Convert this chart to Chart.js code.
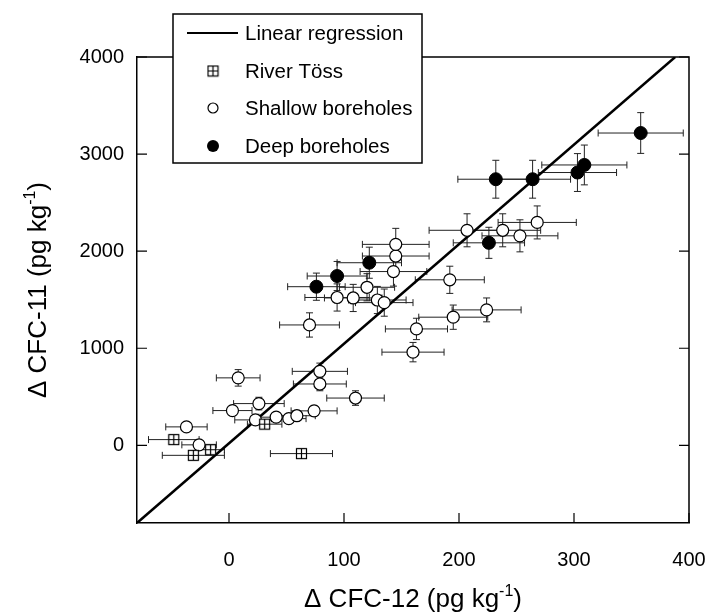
<!DOCTYPE html>
<html lang="en">
<head>
<meta charset="UTF-8">
<title>CFC-11 vs CFC-12</title>
<script src="https://cdn.jsdelivr.net/npm/chart.js"></script>
<style>
  html, body { margin: 0; padding: 0; background: #fff; }
</style>
</head>
<body>
<canvas id="cfcChart" width="710" height="613"></canvas>
<script>
// River Töss
const riverX    = [-48, -31, -16, 31, 63];
const riverY    = [59, -103, -45, 218, -85];
const riverXErr = [22, 27, 12, 15, 27];
const riverYErr = [45, 45, 40, 35, 45];

// Shallow boreholes
const shallowX    = [-37, -26, 3, 8, 23, 26, 41, 52, 59, 74, 70, 79, 79, 110, 94, 108, 120, 129, 135, 143, 145, 145, 160, 163, 192, 195, 224, 207, 238, 253, 268];
const shallowY    = [190, 5, 358, 695, 262, 430, 290, 275, 305, 355, 1240, 762, 632, 487, 1523, 1518, 1628, 1497, 1470, 1790, 1950, 2070, 960, 1199, 1705, 1320, 1395, 2215, 2215, 2158, 2296];
const shallowXErr = [18, 15, 17, 19, 18, 22, 15, 15, 16, 20, 26, 24, 23, 25, 28, 25, 24, 25, 25, 29, 29, 29, 27, 27, 30, 30, 30, 33, 33, 33, 34];
const shallowYErr = [45, 40, 50, 85, 45, 65, 45, 45, 45, 50, 125, 85, 70, 75, 140, 140, 140, 140, 140, 150, 150, 165, 100, 110, 140, 125, 123, 170, 170, 165, 170];

// Deep boreholes
const deepX    = [76, 94, 122, 226, 232, 264, 303, 309, 358];
const deepY    = [1634, 1744, 1881, 2086, 2741, 2741, 2810, 2888, 3217];
const deepXErr = [25, 26, 28, 31, 33, 33, 34, 37, 37];
const deepYErr = [140, 150, 160, 160, 195, 195, 195, 205, 210];

// linear regression end points
const regX = [-80, 388];
const regY = [-800, 4000];

const xTicks = [0, 100, 200, 300, 400];
const yTicks = [0, 1000, 2000, 3000, 4000];

const FONT = '"Liberation Sans", Arial, Helvetica, sans-serif';

function toPoints(xs, ys) {
    return xs.map((x, i) => ({ x: x, y: ys[i] }));
}

// boxed cross marker for the river samples
function makeBoxCross(size) {
    const c = document.createElement('canvas');
    c.width = size; c.height = size;
    const g = c.getContext('2d');
    g.fillStyle = '#fff';
    g.fillRect(1, 1, size - 2, size - 2);
    g.strokeStyle = '#000';
    g.lineWidth = 1.2;
    g.strokeRect(1.5, 1.5, size - 3, size - 3);
    g.beginPath();
    g.moveTo(size / 2, 1.5); g.lineTo(size / 2, size - 1.5);
    g.moveTo(1.5, size / 2); g.lineTo(size - 1.5, size / 2);
    g.stroke();
    return c;
}
const boxCross = makeBoxCross(13);

// axis title with a superscript "-1"
function drawTitle(ctx, x, y, rot, main, sup, tail) {
    ctx.save();
    ctx.translate(x, y);
    ctx.rotate(rot);
    ctx.fillStyle = '#000';
    ctx.textBaseline = 'alphabetic';
    ctx.font = '26px ' + FONT;
    const w1 = ctx.measureText(main).width;
    const w3 = ctx.measureText(tail).width;
    ctx.font = '16px ' + FONT;
    const w2 = ctx.measureText(sup).width;
    let cx = -(w1 + w2 + w3) / 2;
    ctx.font = '26px ' + FONT;
    ctx.fillText(main, cx, 9);
    cx += w1;
    ctx.font = '16px ' + FONT;
    ctx.fillText(sup, cx, -2);
    cx += w2;
    ctx.font = '26px ' + FONT;
    ctx.fillText(tail, cx, 9);
    ctx.restore();
}

const decorations = {
    id: 'decorations',
    beforeDatasetsDraw(chart) {
        const ctx = chart.ctx;
        const a = chart.chartArea;
        const xs = chart.scales.x, ys = chart.scales.y;
        ctx.save();
        ctx.strokeStyle = '#000';
        ctx.lineWidth = 1.5;
        // top and right edges of the frame
        ctx.beginPath();
        ctx.moveTo(a.left, a.top); ctx.lineTo(a.right, a.top); ctx.lineTo(a.right, a.bottom);
        ctx.stroke();
        // inward tick marks
        ctx.lineWidth = 1.2;
        ctx.beginPath();
        yTicks.forEach(v => {
            const py = ys.getPixelForValue(v);
            ctx.moveTo(a.left, py); ctx.lineTo(a.left + 10, py);
            ctx.moveTo(a.right, py); ctx.lineTo(a.right - 10, py);
        });
        xTicks.forEach(v => {
            const px = xs.getPixelForValue(v);
            ctx.moveTo(px, a.bottom); ctx.lineTo(px, a.bottom - 10);
        });
        ctx.stroke();

        // error bars
        ctx.beginPath();
        ctx.rect(a.left, a.top, a.right - a.left, a.bottom - a.top);
        ctx.clip();
        ctx.strokeStyle = '#222';
        ctx.lineWidth = 1;
        ctx.beginPath();
        chart.data.datasets.forEach(ds => {
            if (!ds.errX) return;
            ds.data.forEach((p, i) => {
                const px = xs.getPixelForValue(p.x), py = ys.getPixelForValue(p.y);
                const x0 = xs.getPixelForValue(p.x - ds.errX[i]), x1 = xs.getPixelForValue(p.x + ds.errX[i]);
                const y0 = ys.getPixelForValue(p.y - ds.errY[i]), y1 = ys.getPixelForValue(p.y + ds.errY[i]);
                ctx.moveTo(x0, py); ctx.lineTo(x1, py);
                ctx.moveTo(x0, py - 3.5); ctx.lineTo(x0, py + 3.5);
                ctx.moveTo(x1, py - 3.5); ctx.lineTo(x1, py + 3.5);
                ctx.moveTo(px, y0); ctx.lineTo(px, y1);
                ctx.moveTo(px - 3.5, y0); ctx.lineTo(px + 3.5, y0);
                ctx.moveTo(px - 3.5, y1); ctx.lineTo(px + 3.5, y1);
            });
        });
        ctx.stroke();
        ctx.restore();
    },
    afterDraw(chart) {
        const ctx = chart.ctx;
        const a = chart.chartArea;
        // legend box
        ctx.save();
        ctx.fillStyle = '#fff';
        ctx.fillRect(173, 14, 249, 149);
        ctx.strokeStyle = '#000';
        ctx.lineWidth = 1.5;
        ctx.strokeRect(173, 14, 249, 149);

        const rows = [33, 71, 108, 146];
        ctx.lineWidth = 2;
        ctx.beginPath();
        ctx.moveTo(187, rows[0]); ctx.lineTo(238, rows[0]);
        ctx.stroke();
        ctx.drawImage(boxCross, 213 - 6.5, rows[1] - 6.5);
        ctx.lineWidth = 1.2;
        ctx.beginPath();
        ctx.arc(213, rows[2], 5, 0, Math.PI * 2);
        ctx.fillStyle = '#fff'; ctx.fill(); ctx.stroke();
        ctx.beginPath();
        ctx.arc(213, rows[3], 6, 0, Math.PI * 2);
        ctx.fillStyle = '#000'; ctx.fill();

        ctx.fillStyle = '#000';
        ctx.font = '20.5px ' + FONT;
        ctx.textBaseline = 'middle';
        chart.data.datasets.forEach((ds, i) => {
            ctx.fillText(ds.label, 245, rows[i] + 1);
        });
        ctx.restore();

        // axis titles
        drawTitle(ctx, (a.left + a.right) / 2, 598, 0, '\u0394 CFC-12 (pg kg', '-1', ')');
        drawTitle(ctx, 37, (a.top + a.bottom) / 2, -Math.PI / 2, '\u0394 CFC-11 (pg kg', '-1', ')');
    }
};

const ctx = document.getElementById('cfcChart').getContext('2d');
const chart = new Chart(ctx, {
    type: 'scatter',
    data: {
        datasets: [
            {
                label: 'Linear regression',
                data: toPoints(regX, regY),
                showLine: true,
                borderColor: '#000',
                borderWidth: 2.5,
                pointRadius: 0,
                order: 10
            },
            {
                label: 'River Töss',
                data: toPoints(riverX, riverY),
                errX: riverXErr, errY: riverYErr,
                pointStyle: boxCross,
                order: 1
            },
            {
                label: 'Shallow boreholes',
                data: toPoints(shallowX, shallowY),
                errX: shallowXErr, errY: shallowYErr,
                pointStyle: 'circle',
                pointRadius: 6,
                backgroundColor: '#fff',
                borderColor: '#000',
                borderWidth: 1.2,
                order: 2
            },
            {
                label: 'Deep boreholes',
                data: toPoints(deepX, deepY),
                errX: deepXErr, errY: deepYErr,
                pointStyle: 'circle',
                pointRadius: 6.5,
                backgroundColor: '#000',
                borderColor: '#000',
                borderWidth: 1,
                order: 0
            }
        ]
    },
    options: {
        responsive: false,
        animation: false,
        devicePixelRatio: 1,
        layout: { padding: { top: 57, right: 21, left: 0, bottom: 0 } },
        plugins: { legend: { display: false }, tooltip: { enabled: false } },
        scales: {
            x: {
                type: 'linear',
                min: -80, max: 400,
                afterBuildTicks: s => { s.ticks = xTicks.map(v => ({ value: v })); },
                afterFit: s => { s.height = 90; s.paddingLeft = 0; s.paddingRight = 0; },
                grid: { display: false, drawTicks: false },
                border: { display: true, color: '#000', width: 1.5 },
                ticks: { color: '#000', font: { family: FONT, size: 20 }, padding: 25, callback: v => String(v) }
            },
            y: {
                type: 'linear',
                min: -800, max: 4000,
                afterBuildTicks: s => { s.ticks = yTicks.map(v => ({ value: v })); },
                afterFit: s => { s.width = 137; s.paddingTop = 0; s.paddingBottom = 0; },
                grid: { display: false, drawTicks: false },
                border: { display: true, color: '#000', width: 1.5 },
                ticks: { color: '#000', font: { family: FONT, size: 20 }, padding: 13, callback: v => String(v) }
            }
        }
    },
    plugins: [decorations]
});
</script>
</body>
</html>
